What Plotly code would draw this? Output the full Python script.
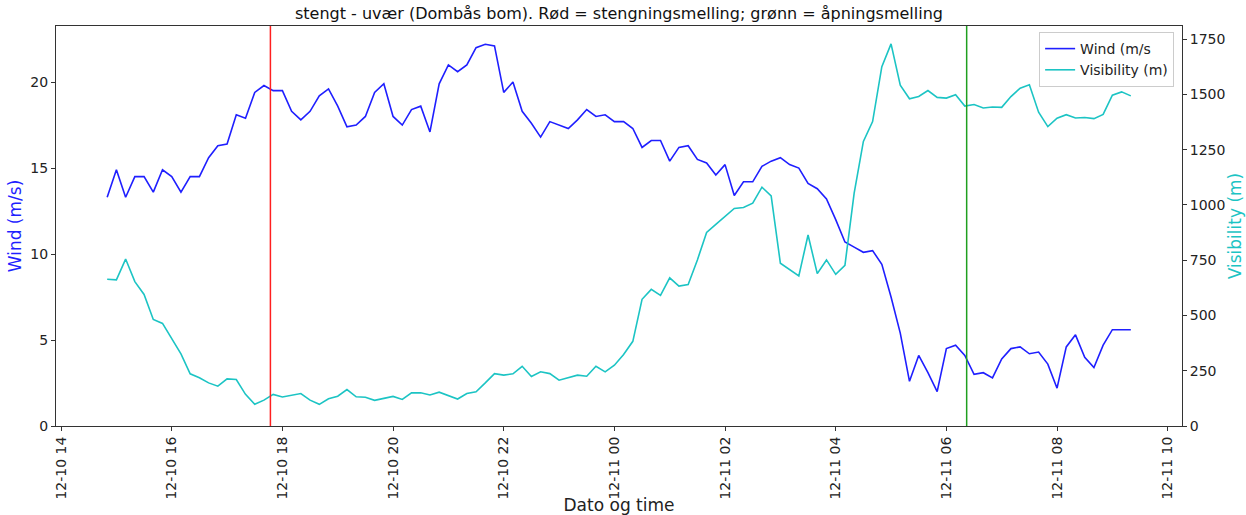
import pandas as pd
import plotly.graph_objects as go

# 10-minute observations from Dombås
start_time = "2020-12-10 14:50"
n_obs = 112
times = pd.date_range(start_time, periods=n_obs, freq="10min")

wind = [
    13.3, 14.9, 13.3, 14.5, 14.5, 13.6, 14.9, 14.5, 13.6, 14.5,
    14.5, 15.6, 16.3, 16.4, 18.1, 17.9, 19.4, 19.8, 19.5, 19.5,
    18.3, 17.8, 18.3, 19.2, 19.6, 18.6, 17.4, 17.5, 18.0, 19.4,
    19.9, 18.0, 17.5, 18.4, 18.6, 17.1, 19.9, 21.0, 20.6, 21.0,
    22.0, 22.2, 22.1, 19.4, 20.0, 18.3, 17.6, 16.8, 17.7, 17.5,
    17.3, 17.8, 18.4, 18.0, 18.1, 17.7, 17.7, 17.3, 16.2, 16.6,
    16.6, 15.4, 16.2, 16.3, 15.5, 15.3, 14.6, 15.2, 13.4, 14.2,
    14.2, 15.1, 15.4, 15.6, 15.2, 15.0, 14.1, 13.8, 13.2, 12.0,
    10.7, 10.4, 10.1, 10.2, 9.4, 7.5, 5.4, 2.6, 4.1, 3.1,
    2.0, 4.5, 4.7, 4.1, 3.0, 3.1, 2.8, 3.9, 4.5, 4.6,
    4.2, 4.3, 3.6, 2.2, 4.6, 5.3, 4.0, 3.4, 4.7, 5.6,
    5.6, 5.6,
]

visibility = [
    664, 661, 755, 653, 595, 482, 464, 397, 326, 236,
    218, 195, 180, 213, 210, 143, 98, 117, 143, 131,
    138, 147, 117, 98, 123, 135, 165, 132, 130, 116,
    125, 134, 120, 150, 150, 140, 153, 138, 122, 147,
    155, 195, 237, 230, 236, 270, 224, 245, 237, 207,
    219, 230, 225, 270, 245, 275, 323, 383, 573, 618,
    591, 670, 633, 640, 751, 875, 912, 950, 984, 988,
    1008, 1080, 1041, 736, 709, 679, 864, 689, 751, 686,
    727, 1053, 1287, 1377, 1625, 1728, 1541, 1480, 1490, 1517,
    1486, 1483, 1498, 1447, 1454, 1438, 1443, 1441, 1490, 1528,
    1543, 1419, 1354, 1392, 1408, 1393, 1395, 1390, 1409, 1496,
    1511, 1493,
]

closing_time = "2020-12-10 17:47"   # stengningsmelding
opening_time = "2020-12-11 06:22"   # åpningsmelding

x_range = ["2020-12-10 13:54:30", "2020-12-11 10:15:30"]
wind_range = [0, 23.26]
vis_range = [0, 1809]

WIND_COLOR = "#1f1fff"
VIS_COLOR = "#1cc4c4"
FONT = "DejaVu Sans"

fig = go.Figure()
fig.add_trace(go.Scatter(
    x=times, y=wind, mode="lines", name="Wind (m/s",
    line=dict(color=WIND_COLOR, width=1.6),
))
fig.add_trace(go.Scatter(
    x=times, y=visibility, mode="lines", name="Visibility (m)",
    line=dict(color=VIS_COLOR, width=1.6), yaxis="y2",
))

# closing and opening messages
fig.add_shape(type="line", x0=closing_time, x1=closing_time, xref="x",
              y0=0, y1=1, yref="paper", line=dict(color="#ff2020", width=1.5))
fig.add_shape(type="line", x0=opening_time, x1=opening_time, xref="x",
              y0=0, y1=1, yref="paper", line=dict(color="#1f9f1f", width=1.5))

axis_line = dict(showline=True, linecolor="#333333", linewidth=1,
                 ticks="outside", ticklen=4, tickcolor="#333333",
                 showgrid=False, zeroline=False, automargin=False,
                 tickfont=dict(size=14))

fig.update_layout(
    width=1246, height=515,
    margin=dict(l=56, r=64, t=26, b=89),
    paper_bgcolor="white", plot_bgcolor="white",
    font=dict(family=FONT, size=14, color="#222222"),
    title=dict(
        text="stengt - uvær (Dombås bom). Rød = stengningsmelling; grønn = åpningsmelling",
        x=0.5, xref="paper", xanchor="center", y=0.985, yref="container",
        yanchor="top", font=dict(size=16, color="#111111"),
    ),
    xaxis=dict(
        **axis_line, mirror=True, range=x_range, type="date",
        tick0="2020-12-10 14:00", dtick=2 * 3600 * 1000,
        tickformat="%m-%d %H", tickangle=-90,
        title=dict(text="Dato og time", font=dict(size=17), standoff=4),
    ),
    yaxis=dict(
        **axis_line, range=wind_range, tickvals=[0, 5, 10, 15, 20],
        title=dict(text="Wind (m/s)", font=dict(size=17, color=WIND_COLOR), standoff=4),
    ),
    yaxis2=dict(
        **axis_line, range=vis_range, overlaying="y", side="right",
        tickvals=[0, 250, 500, 750, 1000, 1250, 1500, 1750],
        title=dict(text="Visibility (m)", font=dict(size=17, color=VIS_COLOR), standoff=4),
    ),
    legend=dict(
        x=0.993, y=0.985, xanchor="right", yanchor="top",
        bgcolor="rgba(255,255,255,0.8)", bordercolor="#cccccc", borderwidth=1,
        font=dict(size=14),
    ),
    showlegend=True,
)

fig.write_html("out.html")
